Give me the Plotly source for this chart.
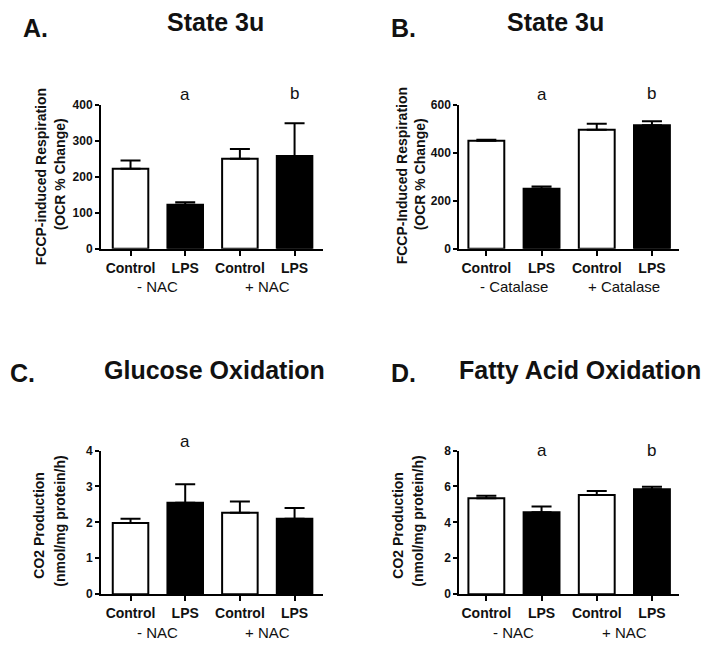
import plotly.graph_objects as go

W, H = 711, 654

# ---- data ----
categories = ["Control", "LPS", "Control", "LPS"]
groups_nac = ["- NAC", "+ NAC"]
groups_cat = ["- Catalase", "+ Catalase"]

a_mean = [222, 122, 250, 258]
a_err = [23, 7, 27, 91]

b_mean = [450, 250, 496, 515]
b_err = [4, 10, 25, 17]

c_mean = [1.98, 2.55, 2.27, 2.10]
c_err = [0.12, 0.51, 0.31, 0.30]

d_mean = [5.35, 4.57, 5.52, 5.85]
d_err = [0.13, 0.31, 0.23, 0.14]

fills = ["white", "black", "white", "black"]
FONT = "Liberation Sans, Arial, sans-serif"


def px(x):
    return x / W


def py(y):
    return 1 - y / H


fig = go.Figure()

panels = [
    (a_mean, a_err, 400, 100, "x", "y", (101, 323), (247, 100), (-0.54, 3.52)),
    (b_mean, b_err, 600, 200, "x2", "y2", (459.3, 679), (247, 100), (-0.49, 3.49)),
    (c_mean, c_err, 4, 1, "x3", "y3", (101, 323), (600, 453.3), (-0.54, 3.52)),
    (d_mean, d_err, 8, 2, "x4", "y4", (459.3, 679), (600, 453.3), (-0.49, 3.49)),
]

for i, (mean, err, ymax, dtick, xa, ya, xd, yd, xr) in enumerate(panels):
    fig.add_trace(go.Bar(
        x=[0, 1, 2, 3], y=mean, width=0.65,
        marker=dict(color=fills, line=dict(color="black", width=2)),
        error_y=dict(type="data", symmetric=False, array=err,
                     arrayminus=[0] * 4, color="black", thickness=2, width=10),
        xaxis=xa, yaxis=ya, showlegend=False, hoverinfo="skip",
    ))
    sfx = "" if i == 0 else str(i + 1)
    fig.layout["xaxis" + sfx] = dict(
        domain=[px(xd[0]), px(xd[1])], range=list(xr), anchor=ya,
        tickvals=[0, 1, 2, 3], ticktext=categories,
        showline=True, linecolor="black", linewidth=2,
        ticks="outside", ticklen=5, tickwidth=2, tickcolor="black",
        showgrid=False, zeroline=False, fixedrange=True,
        tickfont=dict(family=FONT, size=14, color="#111", weight="bold"),
    )
    fig.layout["yaxis" + sfx] = dict(
        domain=[py(yd[0]), py(yd[1])], range=[0, ymax], anchor=xa,
        dtick=dtick, tick0=0,
        showline=True, linecolor="black", linewidth=2,
        ticks="outside", ticklen=4, tickwidth=2, tickcolor="black",
        showgrid=False, zeroline=False, fixedrange=True,
        tickfont=dict(family=FONT, size=12, color="#111", weight="bold"),
    )

ann = []


def text(x, y, s, size, bold=False, angle=0, xref="paper", yref="paper"):
    ann.append(dict(x=x, y=y, xref=xref, yref=yref, text=s, showarrow=False,
                    textangle=angle, xanchor="center", yanchor="middle",
                    font=dict(family=FONT, size=size, color="#111",
                              weight="bold" if bold else "normal")))


# panel letters and titles
text(px(35), py(21), "A.", 25, True)
text(px(215), py(15), "State 3u", 25, True)
text(px(403), py(21), "B.", 25, True)
text(px(555), py(15), "State 3u", 25, True)
text(px(22), py(374), "C.", 25, True)
text(px(214), py(371), "Glucose Oxidation", 25, True)
text(px(403), py(374), "D.", 25, True)
text(px(580), py(371), "Fatty Acid Oxidation", 25, True)

# y-axis titles
text(px(41), py(174), "FCCP-induced Respiration", 14, True, -90)
text(px(60), py(171), "(OCR % Change)", 14, True, -90)
text(px(402), py(173), "FCCP-Induced Respiration", 14, True, -90)
text(px(420), py(171), "(OCR % Change)", 14, True, -90)
text(px(39), py(530), "CO2 Production", 14, True, -90)
text(px(60), py(526), "(nmol/mg protein/h)", 14, True, -90)
text(px(398), py(530), "CO2 Production", 14, True, -90)
text(px(418), py(526), "(nmol/mg protein/h)", 14, True, -90)

# significance letters
text(1, py(89), "a", 17, xref="x")
text(3, py(88), "b", 17, xref="x")
text(1, py(89), "a", 17, xref="x2")
text(3, py(88), "b", 17, xref="x2")
text(1, py(444), "a", 17, xref="x3")
text(1, py(453), "a", 17, xref="x4")
text(3, py(453), "b", 17, xref="x4")

# group labels
for xa, grp, yy in [("x", groups_nac, 286), ("x2", groups_cat, 286),
                    ("x3", groups_nac, 639), ("x4", groups_nac, 639)]:
    text(0.5, py(yy), grp[0], 15, xref=xa)
    text(2.5, py(yy), grp[1], 15, xref=xa)

fig.update_layout(
    width=W, height=H, margin=dict(l=0, r=0, t=0, b=0),
    paper_bgcolor="white", plot_bgcolor="white",
    annotations=ann, bargap=0.35,
)

fig.write_html(
    "out.html",
    config={"displayModeBar": False},
    post_script="document.body.style.margin='0';document.body.style.overflow='hidden';",
)
